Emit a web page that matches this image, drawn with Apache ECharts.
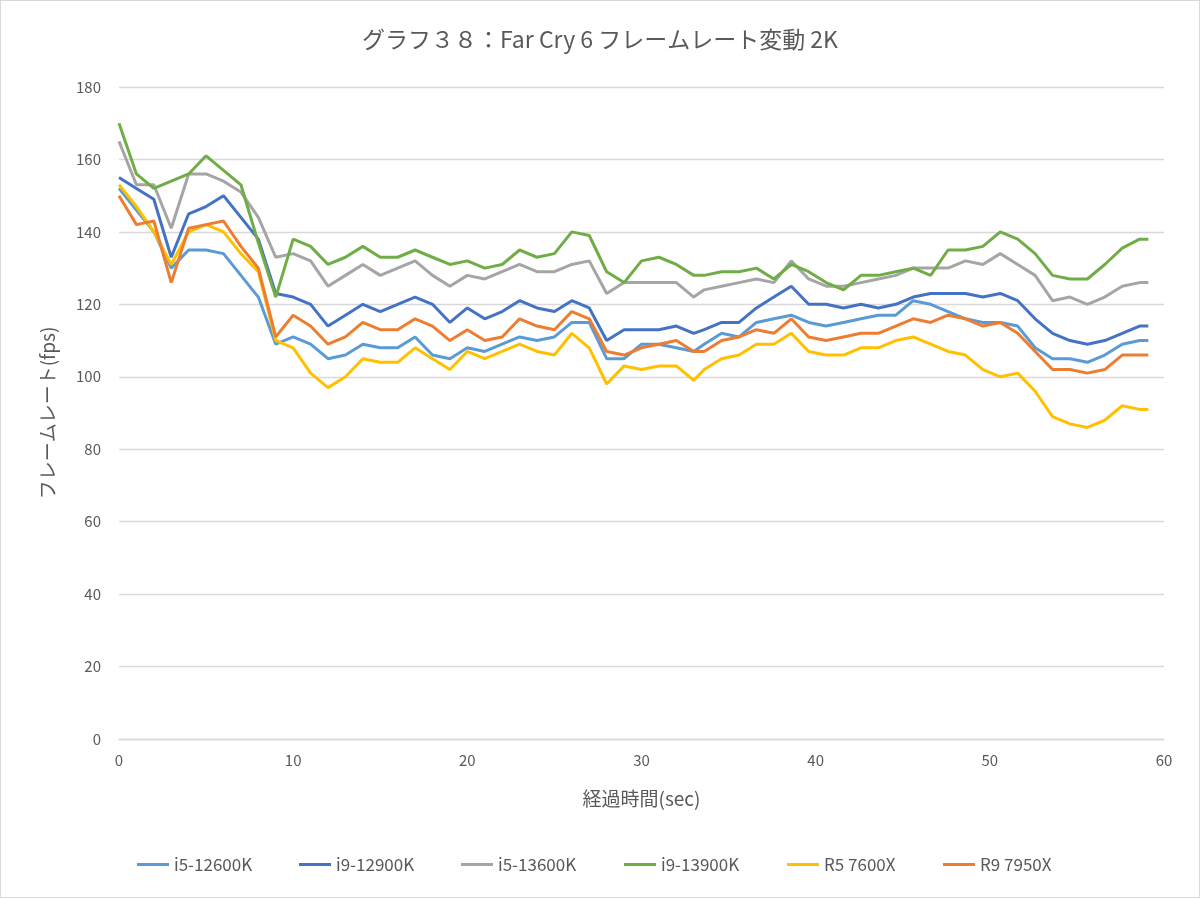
<!DOCTYPE html>
<html>
<head>
<meta charset="utf-8">
<script src="https://cdn.jsdelivr.net/npm/echarts@6/dist/echarts.min.js"></script>
<style>
html,body{margin:0;padding:0;background:#fff;}
#c{width:1198px;height:896px;border:1px solid #d9d9d9;}
</style>
</head>
<body>
<div id="c"></div>
<script>
const titleText = 'グラフ３８：Far Cry 6 フレームレート変動 2K';
const xAxisName = '経過時間(sec)';
const yAxisName = 'フレームレート(fps)';
const xTicks = [0, 10, 20, 30, 40, 50, 60];
const yTicks = [0, 20, 40, 60, 80, 100, 120, 140, 160, 180];

const times = [0,1,2,3,4,5,6,7,8,9,10,11,12,13,14,15,16,17,18,19,20,21,22,23,24,25,26,27,28,29,30,31,32,33,
  33.6,34.6,35.6,36.6,37.6,38.6,39.6,40.6,41.6,42.6,43.6,44.6,45.6,46.6,47.6,48.6,49.6,50.6,51.6,52.6,53.6,54.6,55.6,56.6,57.6,58.6,59.1];

const names = ['i5-12600K', 'i9-12900K', 'i5-13600K', 'i9-13900K', 'R5 7600X', 'R9 7950X'];

const i5_12600K = [152,146,140,130,135,135,134,128,122,109,111,109,105,106,109,108,108,111,106,105,108,107,109,111,110,111,115,115,105,105,109,109,108,107,
  109,112,111,115,116,117,115,114,115,116,117,117,121,120,118,116,115,115,114,108,105,105,104,106,109,110,110];
const i9_12900K = [155,152,149,133,145,147,150,144,138,123,122,120,114,117,120,118,120,122,120,115,119,116,118,121,119,118,121,119,110,113,113,113,114,112,
  113,115,115,119,122,125,120,120,119,120,119,120,122,123,123,123,122,123,121,116,112,110,109,110,112,114,114];
const i5_13600K = [165,153,153,141,156,156,154,151,144,133,134,132,125,128,131,128,130,132,128,125,128,127,129,131,129,129,131,132,123,126,126,126,126,122,
  124,125,126,127,126,132,127,125,125,126,127,128,130,130,130,132,131,134,131,128,121,122,120,122,125,126,126];
const i9_13900K = [170,156,152,154,156,161,157,153,137,122,138,136,131,133,136,133,133,135,133,131,132,130,131,135,133,134,140,139,129,126,132,133,131,128,
  128,129,129,130,127,131,129,126,124,128,128,129,130,128,135,135,136,140,138,134,128,127,127,131,135.5,138,138];
const r5_7600X = [153,147,140,131,140,142,140,134,129,110,108,101,97,100,105,104,104,108,105,102,107,105,107,109,107,106,112,108,98,103,102,103,103,99,
  102,105,106,109,109,112,107,106,106,108,108,110,111,109,107,106,102,100,101,96,89,87,86,88,92,91,91];
const r9_7950X = [150,142,143,126,141,142,143,136,130,111,117,114,109,111,115,113,113,116,114,110,113,110,111,116,114,113,118,116,107,106,108,109,110,107,
  107,110,111,113,112,116,111,110,111,112,112,114,116,115,117,116,114,115,112,107,102,102,101,102,106,106,106];

const seriesValues = [i5_12600K, i9_12900K, i5_13600K, i9_13900K, r5_7600X, r9_7950X];
const colors = ['#5B9BD5', '#4472C4', '#A5A5A5', '#70AD47', '#FFC000', '#ED7D31'];
const legendLefts = [131, 293, 455, 618, 781, 937];

const FONT = '"Noto Sans CJK JP", "Noto Sans", sans-serif';
const TXT = '#595959';

const chart = echarts.init(document.getElementById('c'));
chart.setOption({
  backgroundColor: '#fff',
  animation: false,
  color: colors,
  title: {
    text: titleText, left: 'center', top: 22,
    textStyle: {fontFamily: FONT, fontSize: 23, fontWeight: 'normal', color: TXT}
  },
  legend: names.map((n, i) => ({
    data: [n], left: legendLefts[i], top: 850, icon: 'rect', itemWidth: 32, itemHeight: 3,
    textStyle: {fontFamily: FONT, fontSize: 17, color: TXT, padding: [0, 0, 0, 0]}
  })),
  grid: {left: 118, right: 35, top: 86, bottom: 158, containLabel: false},
  xAxis: {
    type: 'value', min: xTicks[0], max: xTicks[xTicks.length - 1], interval: 10,
    name: xAxisName, nameLocation: 'middle', nameGap: 50,
    nameTextStyle: {fontFamily: FONT, fontSize: 19, color: TXT},
    axisLine: {show: true, lineStyle: {color: '#d9d9d9', width: 1.3}},
    axisTick: {show: false}, splitLine: {show: false},
    axisLabel: {fontFamily: FONT, fontSize: 15, color: TXT, margin: 14}
  },
  yAxis: {
    type: 'value', min: yTicks[0], max: yTicks[yTicks.length - 1], interval: 20,
    name: yAxisName, nameLocation: 'middle', nameGap: 62, nameRotate: 90,
    nameTextStyle: {fontFamily: FONT, fontSize: 19, color: TXT},
    axisLine: {show: false}, axisTick: {show: false},
    splitLine: {lineStyle: {color: '#d9d9d9', width: 1.3}},
    axisLabel: {fontFamily: FONT, fontSize: 15, color: TXT, margin: 18}
  },
  series: names.map((n, i) => ({
    name: n, type: 'line', symbol: 'none', smooth: false,
    lineStyle: {width: 3, color: colors[i]},
    itemStyle: {color: colors[i]},
    data: times.map((t, j) => [t, seriesValues[i][j]])
  }))
});
</script>
</body>
</html>
